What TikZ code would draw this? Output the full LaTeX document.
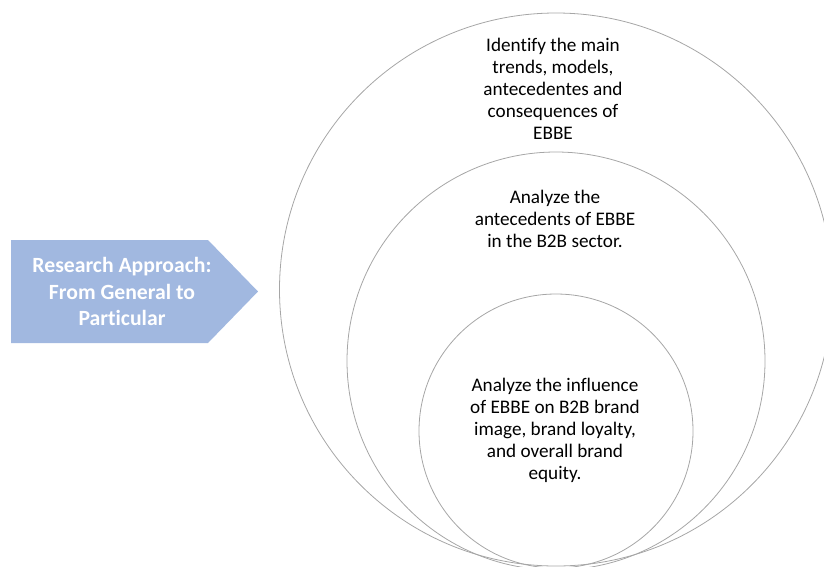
\documentclass[tikz,border=0pt]{standalone}
\usepackage{fontspec}
\setmainfont{Carlito}[Ligatures=NoCommon]
\definecolor{approachblue}{RGB}{161,184,224}
\definecolor{ringgray}{RGB}{166,166,166}
\begin{document}
\begin{tikzpicture}[x=1pt, y=-1pt]
\useasboundingbox (0,0) rectangle (824,566);
\foreach \name/\cy/\r in {outer/289.5/276.5, middle/361/209, inner/431/137}
{
    \node[draw=ringgray, line width=.8pt, circle, inner sep=0pt, minimum size=\r*2pt] (\name) at (556,\cy) {};
}
\fill[approachblue](11,240)--(208,240)--(258,291.5)--(208,343)--(11,343)--cycle;
\node[text=white, font=\bfseries\fontsize{21.7}{26.5}\selectfont, align=center] (approach) at (122,291.5) {Research Approach:\\From General to\\Particular};
\node[align=center, font=\fontsize{19.2}{22}\selectfont] (general) at (553,89) {Identify the main\\trends, models,\\antecedentes and\\consequences of\\EBBE};
\node[align=center, font=\fontsize{19.2}{22}\selectfont] (sector) at (555,219) {Analyze the\\antecedents of EBBE\\in the B2B sector.};
\node[align=center, font=\fontsize{19.2}{22}\selectfont] (particular) at (555,430) {Analyze the influence\\of EBBE on B2B brand\\image, brand loyalty,\\and overall brand\\equity.};
\end{tikzpicture}
\end{document}
